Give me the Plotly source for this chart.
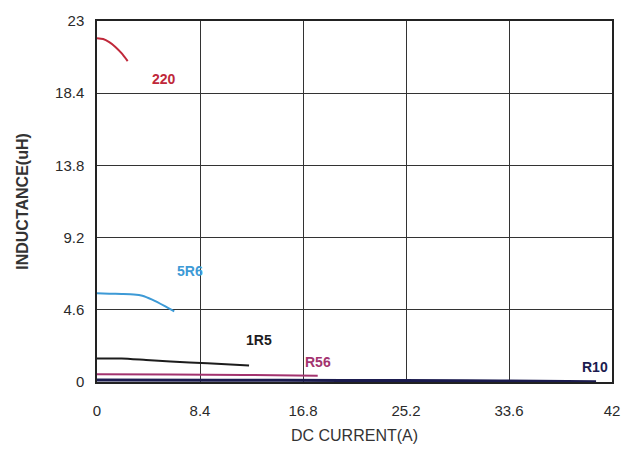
import plotly.graph_objects as go

# Data
x_220 = [0, 0.5, 1.0, 1.5, 2.0, 2.5]
y_220 = [21.9, 21.85, 21.65, 21.35, 20.95, 20.45]

x_5r6 = [0, 1.0, 2.0, 3.0, 3.7, 4.5, 5.5, 6.3]
y_5r6 = [5.65, 5.63, 5.61, 5.58, 5.5, 5.25, 4.85, 4.5]

x_1r5 = [0, 2.0, 4.0, 6.0, 9.0, 12.4]
y_1r5 = [1.5, 1.5, 1.4, 1.3, 1.2, 1.05]

x_r56 = [0, 6.0, 12.0, 18.0]
y_r56 = [0.5, 0.48, 0.45, 0.4]

x_r10 = [0, 10.0, 20.0, 30.0, 36.0, 40.7]
y_r10 = [0.12, 0.11, 0.1, 0.08, 0.05, 0.02]

series = [
    ("220", x_220, y_220, "#c0283a", 2, 5.5, 19.3),
    ("5R6", x_5r6, y_5r6, "#3d9ad6", 2, 7.6, 7.1),
    ("1R5", x_1r5, y_1r5, "#1c1c1c", 2, 13.2, 2.7),
    ("R56", x_r56, y_r56, "#a3336f", 2, 18.0, 1.3),
    ("R10", x_r10, y_r10, "#1b1b4f", 3, 40.6, 0.95),
]

x_ticks = [0, 8.4, 16.8, 25.2, 33.6, 42]
x_ticklabels = ["0", "8.4", "16.8", "25.2", "33.6", "42"]
y_ticks = [0, 4.6, 9.2, 13.8, 18.4, 23]
y_ticklabels = ["0", "4.6", "9.2", "13.8", "18.4", "23"]

fig = go.Figure()
annotations = []
for name, xs, ys, color, w, lx, ly in series:
    fig.add_trace(go.Scatter(x=xs, y=ys, mode="lines", name=name,
                             line=dict(color=color, width=w, shape="spline", smoothing=0.6),
                             showlegend=False))
    annotations.append(dict(x=lx, y=ly, text="<b>%s</b>" % name, showarrow=False,
                            font=dict(color=color, size=14, family="Liberation Sans, Arial")))

font = dict(family="Liberation Sans, Arial, sans-serif", size=15, color="#2a2a2a")
fig.update_layout(
    width=644, height=454,
    margin=dict(l=97, r=32, t=17, b=71),
    paper_bgcolor="white", plot_bgcolor="white",
    font=font,
    annotations=annotations,
    xaxis=dict(range=[0, 42], tickvals=x_ticks, ticktext=x_ticklabels,
               showgrid=True, gridcolor="#333333", gridwidth=1.2,
               showline=True, linecolor="#222222", linewidth=1.5, mirror=True,
               zeroline=False, ticks="", ticklabelstandoff=14,
               tickfont=dict(size=15, color="#2a2a2a"),
               title=dict(text="DC CURRENT(A)", standoff=12, font=dict(size=16, color="#333333"))),
    yaxis=dict(range=[0, 23], tickvals=y_ticks, ticktext=y_ticklabels,
               showgrid=True, gridcolor="#333333", gridwidth=1.2,
               showline=True, linecolor="#222222", linewidth=1.5, mirror=True,
               zeroline=False, ticks="", ticklabelstandoff=8,
               tickfont=dict(size=15, color="#2a2a2a"),
               title=dict(text="<b>INDUCTANCE(uH)</b>", standoff=22, font=dict(size=16, color="#333333"))),
)

fig.write_html("out.html")
